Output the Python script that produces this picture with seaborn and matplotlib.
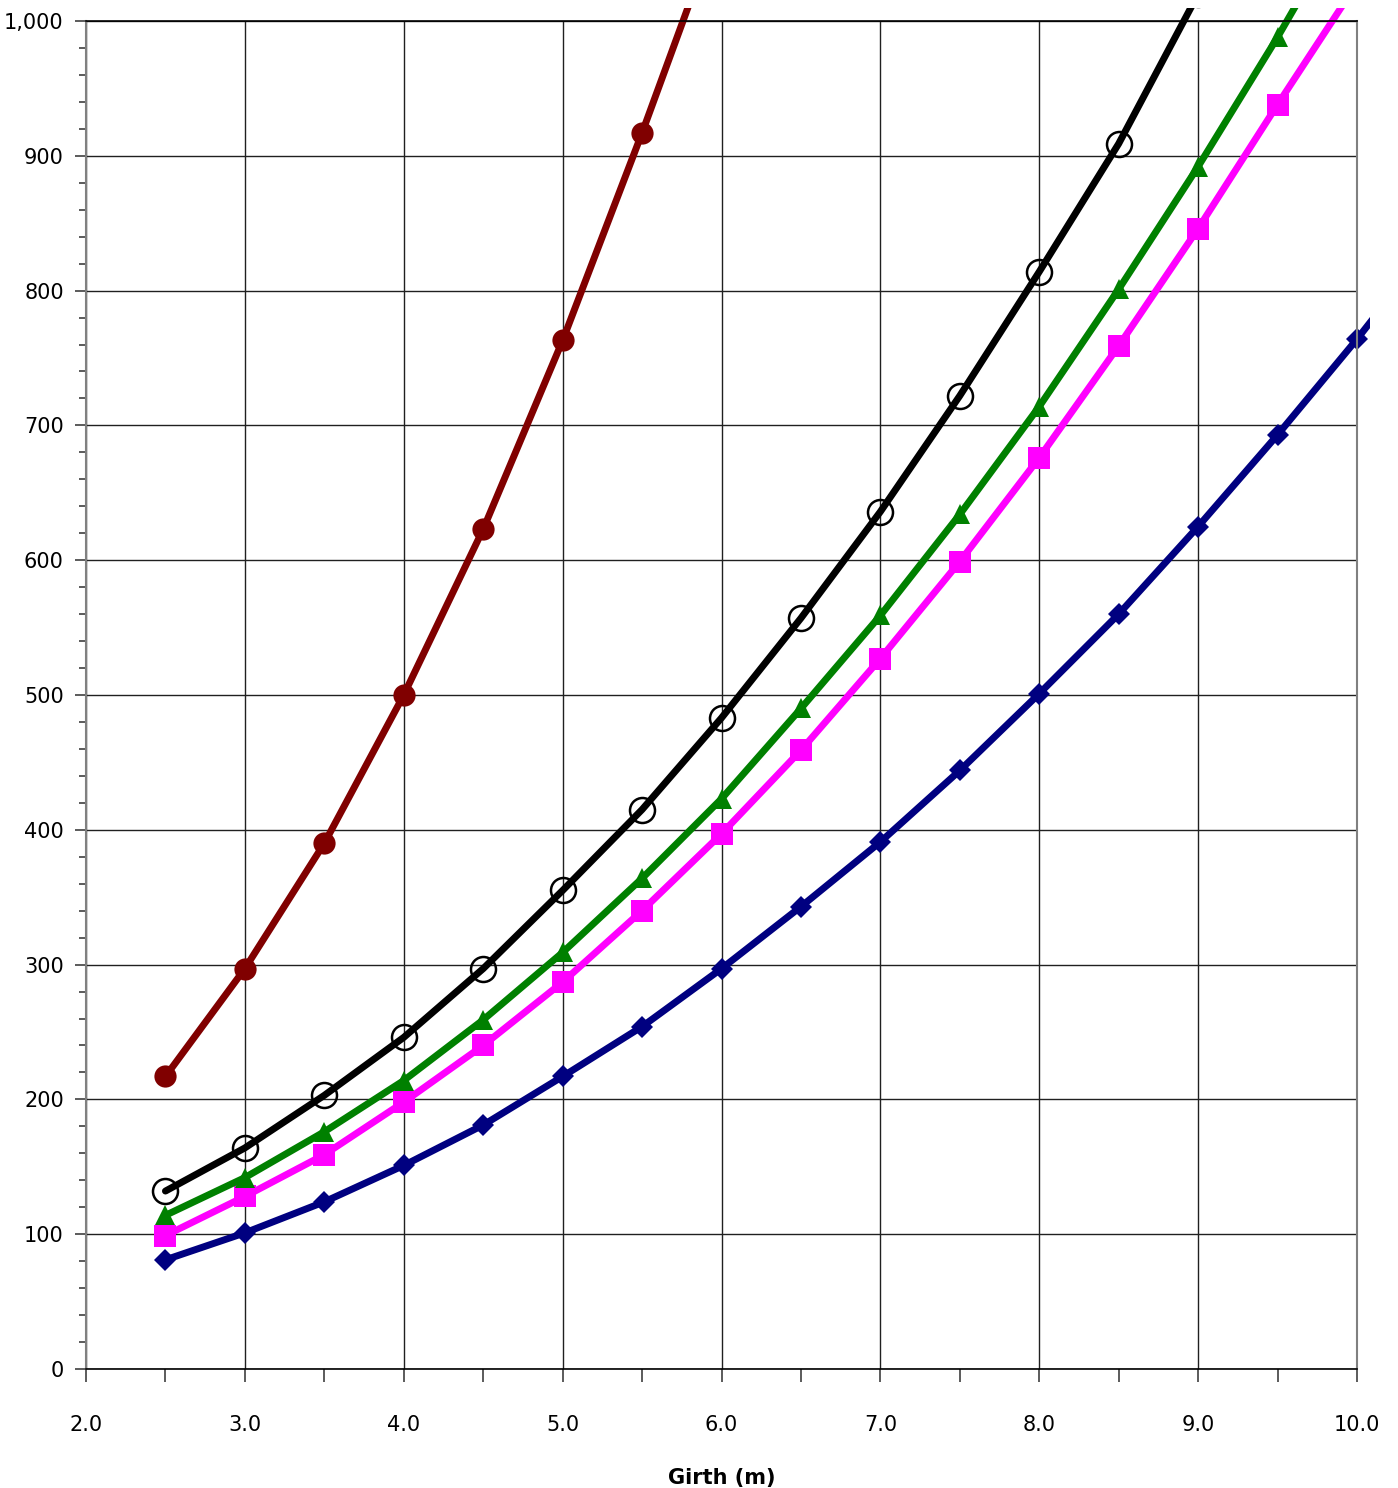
import matplotlib
matplotlib.use("Agg")
import matplotlib.pyplot as plt
import seaborn as sns
import numpy as np
from matplotlib.ticker import MultipleLocator, FuncFormatter
from matplotlib.transforms import Bbox

girth_red = [2.5, 3.0, 3.5, 4.0, 4.5, 5.0, 5.5, 6.0]
red_vals = [217, 297, 390, 500, 623, 763, 917, 1078]

girth = [2.5, 3.0, 3.5, 4.0, 4.5, 5.0, 5.5, 6.0, 6.5, 7.0, 7.5, 8.0, 8.5, 9.0, 9.5, 10.0, 10.5]
black_vals = [132, 164, 203, 246, 297, 355, 415, 483, 557, 636, 722, 814, 909, 1020, 1125, 1240, 1360]
green_vals = [114, 142, 176, 214, 259, 309, 364, 423, 490, 559, 634, 714, 801, 892, 988, 1090, 1195]
magenta_vals = [99, 128, 159, 198, 240, 287, 340, 397, 459, 527, 599, 676, 759, 846, 938, 1028, 1130]
navy_vals = [81, 101, 124, 151, 181, 217, 254, 297, 343, 391, 444, 501, 560, 625, 693, 764, 839]

sns.set_theme(style="white")
plt.rcParams['font.family'] = ['DejaVu Sans']
plt.rcParams['text.color'] = 'black'
plt.rcParams['xtick.color'] = 'black'
plt.rcParams['ytick.color'] = 'black'
plt.rcParams['axes.labelcolor'] = 'black'

fig = plt.figure(figsize=(13.98, 14.88), dpi=100)
ax = fig.add_axes([86/1398, 1 - 1369/1488, (1357-86)/1398, (1369-21)/1488])

lw = 5.0
sns.lineplot(x=girth, y=navy_vals, ax=ax, color="#000080", lw=lw, marker="D",
             markersize=11, markeredgewidth=0)
sns.lineplot(x=girth, y=magenta_vals, ax=ax, color="#FF00FF", lw=lw, marker="s",
             markersize=16, markeredgewidth=0)
sns.lineplot(x=girth, y=green_vals, ax=ax, color="#008000", lw=lw, marker="^",
             markersize=15, markeredgewidth=0)
sns.lineplot(x=girth, y=black_vals, ax=ax, color="black", lw=lw, marker="o",
             markersize=18, markerfacecolor="none", markeredgecolor="black",
             markeredgewidth=1.8)
sns.lineplot(x=girth_red, y=red_vals, ax=ax, color="#800000", lw=lw, marker="o",
             markersize=16, markeredgewidth=0)

ax.set_xlim(2.0, 10.0)
ax.set_ylim(0, 1000)

# the series run a little past the top and right edges of the plot area
fig.canvas.draw()
bb = ax.bbox
for line in ax.lines:
    line.set_clip_box(Bbox([[bb.x0, bb.y0], [bb.x1 + 13, bb.y1 + 13]]))

ax.xaxis.set_major_locator(MultipleLocator(1.0))
ax.xaxis.set_minor_locator(MultipleLocator(0.5))
ax.yaxis.set_major_locator(MultipleLocator(100))
ax.yaxis.set_minor_locator(MultipleLocator(20))
ax.xaxis.set_major_formatter(FuncFormatter(lambda v, p: f"{v:.1f}"))
ax.yaxis.set_major_formatter(FuncFormatter(lambda v, p: f"{int(v):,}"))

ax.grid(True, which="major", color="#202020", lw=1.0)
ax.set_axisbelow(True)

for s in ["left", "right"]:
    ax.spines[s].set_color("#808080")
    ax.spines[s].set_linewidth(1.5)
for s in ["top", "bottom"]:
    ax.spines[s].set_color("black")
    ax.spines[s].set_linewidth(1.2)

ax.tick_params(axis="y", which="major", direction="out", length=8, width=1.2,
               color="#404040", labelsize=15, pad=8, left=True)
ax.tick_params(axis="y", which="minor", direction="out", length=5, width=1.2,
               color="#404040", left=True)
ax.tick_params(axis="x", which="major", direction="out", length=9, width=1.2,
               color="#404040", labelsize=15, pad=24, bottom=True)
ax.tick_params(axis="x", which="minor", direction="out", length=9, width=1.2,
               color="#404040", bottom=True)

ax.set_xlabel("Girth (m)", fontsize=15, fontweight="bold", labelpad=24)
ax.set_ylabel("")

fig.savefig("out.png", dpi=100)
